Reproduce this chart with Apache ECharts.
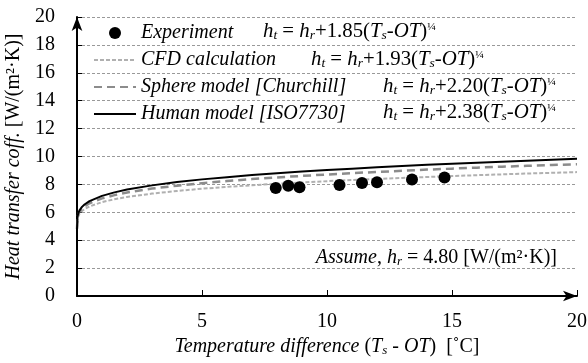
<!DOCTYPE html>
<html>
<head>
<meta charset="utf-8">
<script src="https://cdn.jsdelivr.net/npm/echarts@6/dist/echarts.min.js"></script>
<style>
  html, body { margin: 0; padding: 0; background: #fff; }
  #chart { width: 588px; height: 363px; }
</style>
</head>
<body>
<div id="chart"></div>
<script>
// temperature difference points for the model curves
const xVals = [0, 0.02, 0.05, 0.1, 0.2, 0.3, 0.5, 1, 1.5, 2, 3, 4, 5, 6, 7, 8, 9, 10, 11, 12, 13, 14, 15, 16, 17, 18, 19, 20];
const cfdVals = [4.80, 5.53, 5.71, 5.89, 6.09, 6.23, 6.42, 6.73, 6.94, 7.10, 7.34, 7.53, 7.69, 7.82, 7.94, 8.05, 8.14, 8.23, 8.32, 8.39, 8.46, 8.53, 8.60, 8.66, 8.72, 8.78, 8.83, 8.88];
const sphereVals = [4.80, 5.63, 5.84, 6.04, 6.27, 6.43, 6.65, 7.00, 7.23, 7.42, 7.70, 7.91, 8.09, 8.24, 8.38, 8.50, 8.61, 8.71, 8.81, 8.89, 8.98, 9.06, 9.13, 9.20, 9.27, 9.33, 9.39, 9.45];
const humanVals = [4.80, 5.69, 5.93, 6.14, 6.39, 6.56, 6.80, 7.18, 7.43, 7.63, 7.93, 8.17, 8.36, 8.52, 8.67, 8.80, 8.92, 9.03, 9.13, 9.23, 9.32, 9.40, 9.48, 9.56, 9.63, 9.70, 9.77, 9.83];

// experiment points
const expX = [7.95, 8.45, 8.9, 10.5, 11.4, 12.0, 13.4, 14.7];
const expY = [7.75, 7.9, 7.8, 7.95, 8.1, 8.15, 8.35, 8.5];

const seriesNames = ["Experiment", "CFD calculation", "Sphere model [Churchill]", "Human model [ISO7730]"];
const coefs = ["1.85", "1.93", "2.20", "2.38"];

const serif = "Liberation Serif";

function pairs(xs, ys) {
  return xs.map((x, i) => [x, ys[i]]);
}

const txtRich = {
  i: { fontFamily: serif, fontStyle: "italic", fontSize: 20, color: "#000", lineHeight: 20 },
  n: { fontFamily: serif, fontSize: 20, color: "#000", lineHeight: 20 },
  is: { fontFamily: serif, fontStyle: "italic", fontSize: 13, color: "#000", verticalAlign: "bottom" },
  sup: { fontFamily: serif, fontSize: 11, color: "#000", verticalAlign: "top" },
};

function eqText(c) {
  return "{i|h}{is|t}{n| = }{i|h}{is|r}{n|+" + c + "(}{i|T}{is|s}{i|-OT}{n|)}{sup|¼}";
}

// equation positions beside the legend rows
const eqX = [263, 311, 383, 383];
const rowY = [32, 60, 87, 113];

const graphics = coefs.map((c, i) => ({
  type: "text",
  left: eqX[i],
  top: rowY[i] - 10,
  scaleX: 1.04,
  style: { text: eqText(c), rich: txtRich },
}));
graphics.push({
  type: "text",
  right: 31,
  top: 248,
  style: {
    text: "{i|Assume}{n|, }{i|h}{is|r}{n| = 4.80 [W/(m²·K)]}",
    rich: txtRich,
  },
});

const noSymbol = { color: "rgba(0,0,0,0)", borderColor: "rgba(0,0,0,0)", borderWidth: 0 };

const chart = echarts.init(document.getElementById("chart"));

const option = {
  animation: false,
  backgroundColor: "#fff",
  textStyle: { fontFamily: serif },
  grid: { left: 77, right: 11, top: 17, bottom: 67, outerBoundsMode: "none" },
  legend: {
    orient: "vertical",
    left: 93,
    top: 23,
    padding: 0,
    itemWidth: 42,
    itemHeight: 12,
    itemGap: 7,
    data: [
      { name: seriesNames[0] },
      { name: seriesNames[1], itemStyle: noSymbol },
      { name: seriesNames[2], itemStyle: noSymbol },
      { name: seriesNames[3], itemStyle: noSymbol },
    ],
    formatter: "{lg|{name}}",
    textStyle: {
      fontFamily: serif,
      fontSize: 20,
      rich: { lg: { fontFamily: serif, fontStyle: "italic", fontSize: 20, lineHeight: 20, color: "#000" } },
    },
  },
  xAxis: {
    type: "value",
    min: 0,
    max: 20,
    interval: 5,
    name: "{i|Temperature difference }{n|(}{i|T}{is|s}{i| - OT}{n|)  [˚C]}",
    nameLocation: "middle",
    nameGap: 40,
    nameTextStyle: { rich: txtRich },
    axisLine: {
      lineStyle: { color: "#000", width: 2 },
      symbol: ["none", "arrow"],
      symbolSize: [8, 14],
    },
    axisTick: { inside: true, length: 6, lineStyle: { color: "#000", width: 1 } },
    axisLabel: { fontFamily: serif, fontSize: 20, color: "#000", margin: 16 },
    splitLine: { show: false },
  },
  yAxis: {
    type: "value",
    min: 0,
    max: 20,
    interval: 2,
    name: "{i|Heat transfer coff.}{n| [W/(m²·K)]}",
    nameLocation: "middle",
    nameGap: 50,
    nameTextStyle: { rich: txtRich },
    axisLine: {
      lineStyle: { color: "#000", width: 2 },
      symbol: ["none", "arrow"],
      symbolSize: [8, 14],
    },
    axisTick: { inside: true, length: 5, lineStyle: { color: "#000", width: 1 } },
    axisLabel: { fontFamily: serif, fontSize: 20, color: "#000", margin: 22 },
    splitLine: { lineStyle: { color: "#999", type: [3, 2], width: 1 } },
  },
  graphic: graphics,
  series: [
    {
      name: seriesNames[0],
      type: "scatter",
      symbol: "circle",
      symbolSize: 12,
      itemStyle: { color: "#000", opacity: 1 },
      data: pairs(expX, expY),
      z: 5,
    },
    {
      name: seriesNames[1],
      type: "line",
      showSymbol: false,
      symbol: "none",
      lineStyle: { color: "#b0b0b0", width: 2, type: [4, 2] },
      itemStyle: { color: "#b0b0b0" },
      data: pairs(xVals, cfdVals),
    },
    {
      name: seriesNames[2],
      type: "line",
      showSymbol: false,
      symbol: "none",
      lineStyle: { color: "#8c8c8c", width: 2.5, type: [8, 5] },
      itemStyle: { color: "#8c8c8c" },
      data: pairs(xVals, sphereVals),
    },
    {
      name: seriesNames[3],
      type: "line",
      showSymbol: false,
      symbol: "none",
      lineStyle: { color: "#000", width: 2 },
      itemStyle: { color: "#000" },
      data: pairs(xVals, humanVals),
    },
  ],
};

chart.setOption(option);
</script>
</body>
</html>
